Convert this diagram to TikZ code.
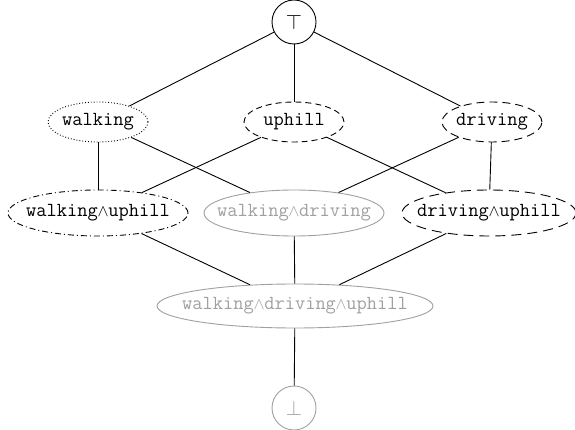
\documentclass[tikz,border=0pt]{standalone}
\usetikzlibrary{shapes.geometric}
\newcommand{\wg}{\makebox[0.525em]{\scalebox{0.8}{$\wedge$}}}
\definecolor{lgray}{RGB}{160,160,160}
\begin{document}
\begin{tikzpicture}[x=1pt,y=-1pt,
  every node/.style={inner sep=0pt},
  txt/.style={font=\fontsize{19.9}{22}\selectfont\ttfamily},
  ell/.style={ellipse, draw, line width=0.9pt},
  gr/.style={draw=lgray},
  lab/.style={label={[txt]center:#1}},
  glab/.style={label={[txt,text=lgray]center:#1}},
  edge/.style={line width=0.9pt}]
\useasboundingbox (0,0) rectangle (575,430);
\node[circle, draw, line width=0.9pt, minimum size=44pt, font=\fontsize{22}{24}\selectfont] (top) at (294,22) {$\top$};
\node[ell, dotted, minimum width=100pt, minimum height=40pt, lab=walking] (w) at (98,122) {};
\node[ell, dash pattern=on 6pt off 4pt, minimum width=100pt, minimum height=40pt, lab=uphill] (u) at (294,122) {};
\node[ell, dash pattern=on 8pt off 5pt, minimum width=100pt, minimum height=40pt, lab=driving] (d) at (492,122) {};
\node[ell, dash pattern=on 6pt off 3pt on 1pt off 3pt, minimum width=180pt, minimum height=46pt, lab=walking\wg uphill] (wu) at (98,213) {};
\node[ell, gr, minimum width=180pt, minimum height=46pt, glab=walking\wg driving] (wd) at (294,213) {};
\node[ell, dash pattern=on 10pt off 6pt, minimum width=174pt, minimum height=46pt, lab=driving\wg uphill] (du) at (489,213) {};
\node[ell, gr, minimum width=276pt, minimum height=44pt, glab=walking\wg driving\wg uphill] (wdu) at (295,306) {};
\node[circle, draw=lgray, text=lgray, line width=0.9pt, minimum size=44pt, font=\fontsize{22}{24}\selectfont] (bot) at (294,408) {$\bot$};
\draw[edge] (top) -- (w);
\draw[edge] (top) -- (u);
\draw[edge] (top) -- (d);
\draw[edge] (w) -- (wu);
\draw[edge] (w) -- (wd);
\draw[edge] (u) -- (wu);
\draw[edge] (u) -- (du);
\draw[edge] (d) -- (wd);
\draw[edge] (d) -- (du);
\draw[edge] (wu) -- (wdu);
\draw[edge] (wd) -- (wdu);
\draw[edge] (du) -- (wdu);
\draw[edge] (wdu) -- (bot);
\end{tikzpicture}
\end{document}
